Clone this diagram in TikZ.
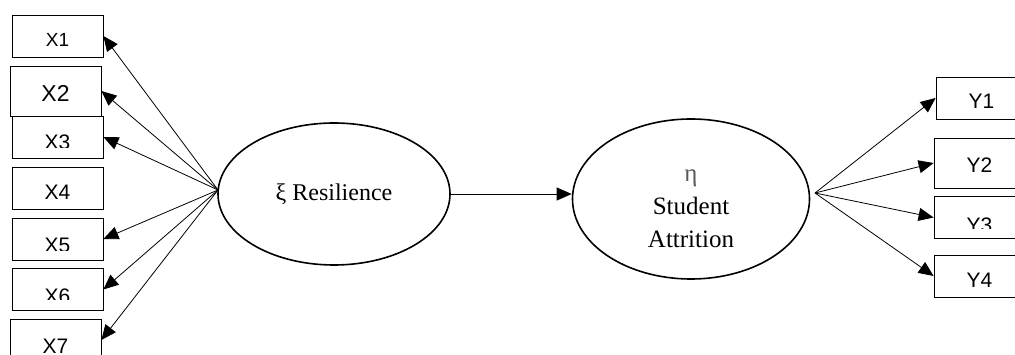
\documentclass[tikz,border=0pt]{standalone}
\usepackage{fontspec}
\setmainfont{Liberation Serif}
\newfontfamily\boxfont{Liberation Sans}
\usetikzlibrary{arrows.meta,shapes.geometric}
\tikzset{
    boxfs/.store in=\boxfs, boxfs=21,
    obs/.style n args={3}{draw, line width=0.8pt, minimum width=91pt, minimum height=42pt, inner sep=0pt,
        path picture={
            \clip ([yshift=#3]path picture bounding box.south west) rectangle (path picture bounding box.north east);
            \node[anchor=base, inner sep=0pt, font=\boxfont\fontsize{\boxfs}{\boxfs}\selectfont]
                at ([yshift=#2]path picture bounding box.south) {#1};
        }},
    lat/.style={ellipse, draw, line width=1.6pt, inner sep=0pt},
    load/.style={-{Triangle[length=15pt,width=13pt]}, line width=0.8pt}
}

\begin{document}
\begin{tikzpicture}[x=1pt,y=-1pt]
\useasboundingbox (0,0) rectangle (1015,355);
% indicators of resilience
\node[obs={X1}{10pt}{0pt}, boxfs=19] (x1) at (57.5,36) {};
\node[obs={X2}{14pt}{0pt}, boxfs=23, minimum height=50pt] (x2) at (55.5,91) {};
\node[obs={X3}{8pt}{10pt}] (x3) at (57.5,137) {};
\node[obs={X4}{9pt}{0pt}] (x4) at (57.5,188) {};
\node[obs={X5}{7pt}{9pt}] (x5) at (57.5,239) {};
\node[obs={X6}{7pt}{11pt}] (x6) at (57.5,289.5) {};
\node[obs={X7}{8pt}{0pt}] (x7) at (55.5,340) {};
% indicators of attrition
\node[obs={Y1}{10pt}{0pt}] (y1) at (981.5,98) {};
\node[obs={Y2}{15pt}{0pt}, minimum height=50pt] (y2) at (979.5,163) {};
\node[obs={Y3}{6pt}{10pt}] (y3) at (979.5,217.5) {};
\node[obs={Y4}{9pt}{9pt}] (y4) at (979.5,276) {};
% latent variables
\node[lat, minimum width=232pt, minimum height=142pt, font=\fontsize{24}{29}\selectfont] (res) at (334,194) {ξ Resilience};
\node[lat, minimum width=237pt, minimum height=160pt,
      label={[font=\fontsize{25}{33}\selectfont, align=center, yshift=-10pt]center:{\color{black!65}η}\\Student\\Attrition}] (att) at (691,199) {};
\coordinate (fl) at (218,190);
\coordinate (fr) at (815,193);
\foreach \i in {1,2,3,5,6,7}
    \draw[load] (fl) -- (x\i.east);
\draw[load] (res.east) -- (res.east -| att.west);
\foreach \i in {1,...,4}
    \draw[load] (fr) -- (y\i.west);
\end{tikzpicture}
\end{document}
